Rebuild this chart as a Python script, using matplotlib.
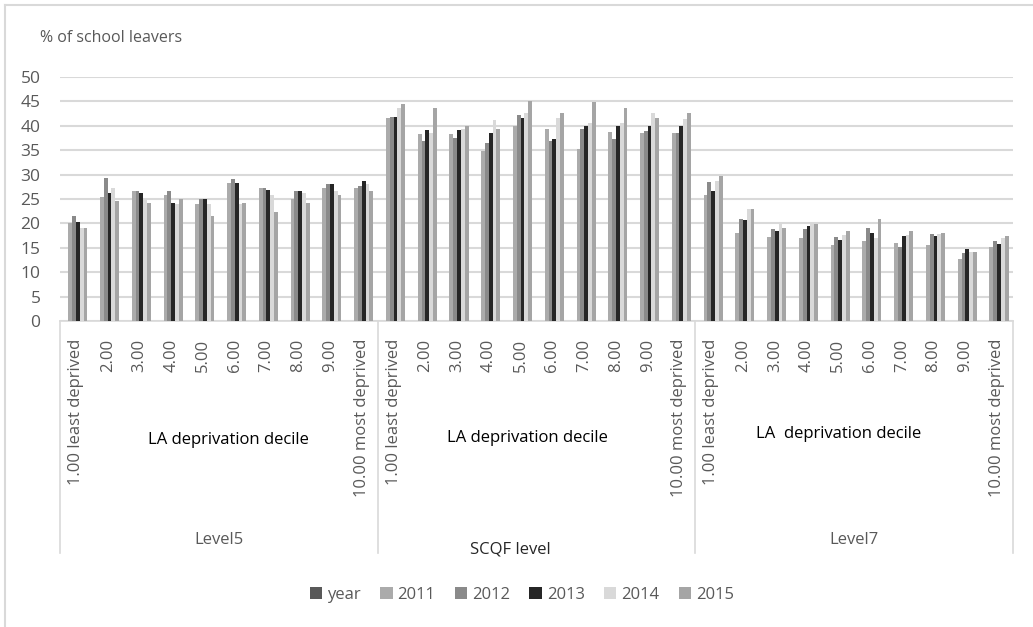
import matplotlib
matplotlib.use("Agg")
import matplotlib.pyplot as plt
import numpy as np

# ---- data ----
levels = ["Level5", "SCQF level", "Level7"]
deciles = ["1.00 least deprived", "2.00", "3.00", "4.00", "5.00",
           "6.00", "7.00", "8.00", "9.00", "10.00 most deprived"]
series_names = ["year", "2011", "2012", "2013", "2014", "2015"]

year_vals = [0] * 30  # empty series in the source chart
v2011 = [20.0, 25.5, 26.6, 25.9, 23.9, 28.3, 27.3, 25.1, 27.3, 27.3,
         41.6, 38.3, 38.3, 34.8, 40.0, 39.4, 35.3, 38.8, 38.6, 38.6,
         25.9, 18.1, 17.3, 17.1, 15.6, 16.3, 15.9, 15.6, 12.8, 15.2]
v2012 = [21.6, 29.3, 26.6, 26.6, 25.1, 29.0, 27.3, 26.6, 28.0, 27.6,
         41.9, 36.9, 37.6, 36.4, 42.2, 36.9, 39.4, 37.2, 38.9, 38.6,
         28.4, 20.9, 18.8, 18.8, 17.3, 19.1, 15.2, 17.8, 13.9, 16.4]
v2013 = [20.2, 26.2, 26.2, 24.2, 25.1, 28.3, 26.8, 26.6, 28.0, 28.6,
         41.9, 39.1, 39.1, 38.6, 41.6, 37.2, 40.0, 40.0, 39.9, 39.9,
         26.6, 20.6, 18.5, 19.5, 16.7, 18.1, 17.4, 17.4, 14.7, 15.7]
v2014 = [19.0, 27.2, 24.9, 23.9, 23.9, 23.9, 25.9, 26.2, 26.6, 28.0,
         43.6, 38.6, 39.4, 41.1, 42.6, 41.5, 40.5, 40.5, 42.6, 41.3,
         28.7, 23.0, 19.8, 19.8, 17.7, 17.1, 17.7, 17.8, 14.2, 17.1]
v2015 = [19.0, 24.5, 24.2, 25.1, 21.6, 24.2, 22.4, 24.2, 25.9, 26.6,
         44.4, 43.6, 39.9, 39.4, 45.0, 42.6, 44.8, 43.6, 41.6, 42.6,
         29.8, 23.0, 19.1, 19.8, 18.5, 20.9, 18.5, 18.1, 14.2, 17.4]
yticks = [0, 5, 10, 15, 20, 25, 30, 35, 40, 45, 50]

series_vals = [year_vals, v2011, v2012, v2013, v2014, v2015]
colors = ["#595959", "#ababab", "#8a8a8a", "#262626", "#d9d9d9", "#a5a5a5"]

FONT = ["Open Sans", "DejaVu Sans"]
plt.rcParams["font.family"] = FONT
GRAY_TXT = "#595959"

W, H = 1033, 627
fig = plt.figure(figsize=(W / 100, H / 100), dpi=100)
L, R, B, T = 60, 1013, 321, 77
ax = fig.add_axes([L / W, 1 - B / H, (R - L) / W, (B - T) / H])

n_cat = len(deciles) * len(levels)
x = np.arange(n_cat)
bw = 0.12
for i, (name, vals, c) in enumerate(zip(series_names, series_vals, colors)):
    ax.bar(x + (i - 2.5) * bw, vals, width=bw, color=c, label=name,
           linewidth=0, zorder=3)

ax.set_xlim(-0.5, n_cat - 0.5)
ax.set_ylim(0, 50)
ax.set_yticks(yticks)
ax.tick_params(axis="y", length=0, labelsize=12.5, labelcolor=GRAY_TXT, pad=14)
ax.yaxis.grid(True, color="#d9d9d9", linewidth=1.5, zorder=0)
ax.set_axisbelow(True)
for s in ["top", "right", "left"]:
    ax.spines[s].set_visible(False)
ax.spines["bottom"].set_color("#d9d9d9")
ax.spines["bottom"].set_linewidth(1.2)

ax.set_xticks(x)
ax.set_xticklabels(deciles * len(levels), rotation=90, va="top", ha="center")
ax.tick_params(axis="x", length=0, labelsize=12, labelcolor=GRAY_TXT, pad=13)

axh = B - T
trans = ax.get_xaxis_transform()
# multi-level category separators
for xs in [-0.5, 9.5, 19.5, 29.5]:
    ax.plot([xs, xs], [0, -(553 - B) / axh], transform=trans, color="#d9d9d9",
            linewidth=1.2, clip_on=False)

# level labels
ax.text(4.5, -(540 - B) / axh, "Level5", transform=trans, ha="center",
        va="center", fontsize=12, color=GRAY_TXT)
ax.text(24.5, -(540 - B) / axh, "Level7", transform=trans, ha="center",
        va="center", fontsize=12, color=GRAY_TXT)
fig.text(510 / W, 1 - 549 / H, "SCQF level", ha="center", va="center",
         fontsize=12, color="#262626")

# annotations
for cx, cy, txt in [(228, 440, "LA deprivation decile"),
                    (527, 438, "LA deprivation decile"),
                    (839, 434, "LA  deprivation decile")]:
    fig.text(cx / W, 1 - cy / H, txt, ha="center", va="center",
             fontsize=12, color="#000000")

fig.text(40 / W, 1 - 38 / H, "% of school leavers", ha="left", va="center",
         fontsize=11.5, color=GRAY_TXT)

# legend
leg = fig.legend(loc="center", bbox_to_anchor=(522 / W, 1 - 595 / H), ncol=6,
                 frameon=False, fontsize=12, handlelength=0.75, handleheight=0.75,
                 handletextpad=0.3, columnspacing=1.15)
for t in leg.get_texts():
    t.set_color(GRAY_TXT)

# outer chart border (left and top visible)
fig.add_artist(plt.Line2D([5 / W, 5 / W], [0, 1 - 5 / H], color="#d9d9d9",
                          linewidth=1.5, transform=fig.transFigure))
fig.add_artist(plt.Line2D([5 / W, 1], [1 - 5 / H, 1 - 5 / H], color="#d9d9d9",
                          linewidth=1.5, transform=fig.transFigure))

fig.savefig("out.png", dpi=100)
